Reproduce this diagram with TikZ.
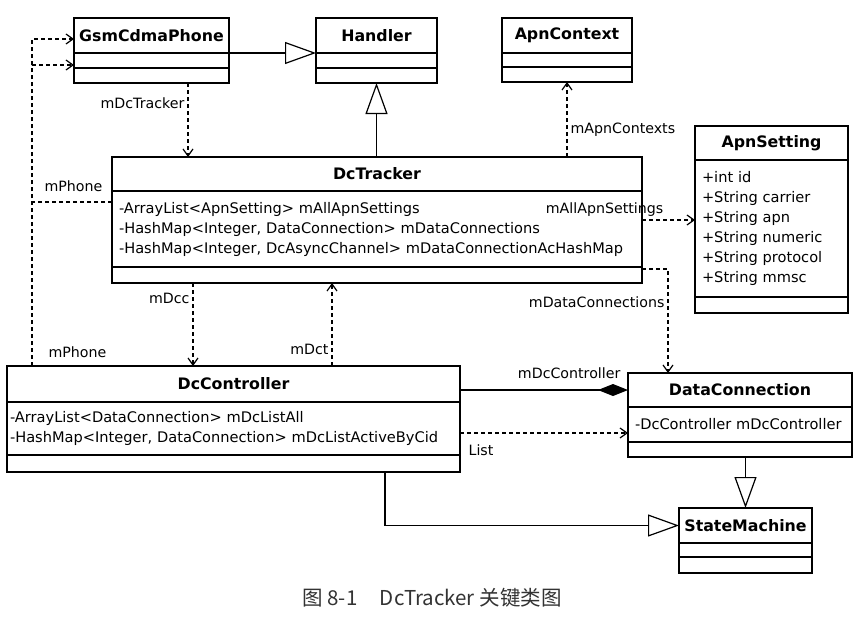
\documentclass[tikz,border=0pt]{standalone}
\usepackage{fontspec}
\setmainfont{DejaVu Sans}
\newfontfamily\cjkfont{Noto Sans CJK SC}
\usetikzlibrary{arrows.meta, positioning}
\newcommand\ttlfont{\fontsize{15.8}{18}\selectfont\bfseries}
\newcommand\attfont{\fontsize{14.6}{20}\selectfont}
\newcommand\lblfont{\fontsize{14.2}{16}\selectfont}

\begin{document}
\begin{tikzpicture}[x=1pt, y=-1pt,
    cls/.style={draw, line width=1.3pt, inner sep=0pt, outer sep=0pt},
    ttl/.style={cls, anchor=north west, font=\ttlfont},
    att/.style={cls, font=\attfont, align=left, inner xsep=7pt},
    dep/.style={line width=1.2pt, dash pattern=on 4pt off 3pt, -{Straight Barb[length=7pt, width=10pt]}},
    gen/.style={line width=1.2pt, -{Triangle[open, length=31pt, width=22pt, fill=white]}},
    comp/.style={line width=1.2pt, -{Diamond[length=30pt, width=12pt]}},
    lbl/.style={font=\lblfont, inner sep=3pt}]
		\path[use as bounding box, fill=white] (0,0) rectangle (867,637);
		% classes
		\node[ttl, minimum width=155, minimum height=35] (gsm) at (74,18) {GsmCdmaPhone};
		\node[cls, minimum width=155, minimum height=15, below=0pt of gsm] (gsm-a) {};
		\node[cls, minimum width=155, minimum height=15, below=0pt of gsm-a] (gsm-o) {};
		\node[ttl, minimum width=121, minimum height=35] (hdl) at (316,18) {Handler};
		\node[cls, minimum width=121, minimum height=15, below=0pt of hdl] (hdl-a) {};
		\node[cls, minimum width=121, minimum height=15, below=0pt of hdl-a] (hdl-o) {};
		\node[ttl, minimum width=130, minimum height=35] (ctx) at (502,18) {ApnContext};
		\node[cls, minimum width=130, minimum height=14, below=0pt of ctx] (ctx-a) {};
		\node[cls, minimum width=130, minimum height=15, below=0pt of ctx-a] (ctx-o) {};
		\node[ttl, minimum width=153, minimum height=34] (aps) at (695,126) {ApnSetting};
		\node[att, text width=139, minimum height=137, below=0pt of aps] (aps-a)
			{+int id\\+String carrier\\+String apn\\+String numeric\\+String protocol\\+String mmsc};
		\node[cls, minimum width=153, minimum height=16, below=0pt of aps-a] (aps-o) {};
		\node[ttl, minimum width=530, minimum height=34] (dct) at (112,157) {DcTracker};
		\node[att, text width=516, minimum height=76, below=0pt of dct] (dct-a)
			{-ArrayList<ApnSetting> mAllApnSettings\\-HashMap<Integer, DataConnection> mDataConnections\\-HashMap<Integer, DcAsyncChannel> mDataConnectionAcHashMap};
		\node[cls, minimum width=530, minimum height=16, below=0pt of dct-a] (dct-o) {};
		\node[ttl, minimum width=453, minimum height=36] (dcc) at (7,366) {DcController};
		\node[att, inner xsep=3pt, text width=447, minimum height=53, below=0pt of dcc] (dcc-a)
			{-ArrayList<DataConnection> mDcListAll\\-HashMap<Integer, DataConnection> mDcListActiveByCid};
		\node[cls, minimum width=453, minimum height=17, below=0pt of dcc-a] (dcc-o) {};
		\node[ttl, minimum width=224, minimum height=34] (dcn) at (628,373) {DataConnection};
		\node[att, text width=210, minimum height=35, below=0pt of dcn] (dcn-a) {-DcController mDcController};
		\node[cls, minimum width=224, minimum height=15, below=0pt of dcn-a] (dcn-o) {};
		\node[ttl, minimum width=133, minimum height=35] (sm) at (679,508) {StateMachine};
		\node[cls, minimum width=133, minimum height=14, below=0pt of sm] (sm-a) {};
		\node[cls, minimum width=133, minimum height=16, below=0pt of sm-a] (sm-o) {};
		% relations
		\draw[gen] (gsm.south east) -- (hdl.south west);
		\draw[gen] (hdl-o.south |- dct.north) -- (hdl-o.south);
		\draw[dep] (ctx-o.south |- dct.north) -- node[lbl, right, pos=0.36] {mApnContexts} (ctx-o.south);
		\draw[dep] ([xshift=36.5]gsm-o.south) -- node[lbl, left, pos=0.27] {mDcTracker} ([xshift=36.5]gsm-o.south |- dct.north);
		\draw[dep] ([yshift=-11]dct-a.north west) -| node[lbl, pos=0, anchor=south east, xshift=-6, yshift=7] {mPhone} ([xshift=-42, yshift=-4.5]gsm-a.west) -- ([yshift=-4.5]gsm-a.west);
		\draw[dep] ([xshift=25]dcc.north west) |- node[lbl, pos=0, anchor=south west, xshift=13, yshift=5] {mPhone} ([yshift=-3.5]gsm.west);
		\draw[dep] ([xshift=-184]dct-o.south) -- node[lbl, left, pos=0.18] {mDcc} ([xshift=-184]dct-o.south |- dcc.north);
		\draw[dep] ([xshift=98.5]dcc.north) -- node[lbl, left, pos=0.2] {mDct} ([xshift=98.5]dcc.north |- dct-o.south);
		\draw[dep] ([yshift=-29]dct-a.north east) -- node[lbl, pos=0.47, anchor=south east] {mAllApnSettings} ([yshift=-29]dct-a.north east -| aps.west);
		\draw[dep] ([yshift=-2]dct-o.north east) -| node[lbl, pos=0.66, left] {mDataConnections} ([xshift=-72]dcn.north);
		\draw[comp] (dcn.west -| dcc.east) -- node[lbl, pos=0.65, above, yshift=8] {mDcController} (dcn.west);
		\draw[dep] ([yshift=-8.5]dcn-a.west -| dcc-a.east) -- node[lbl, pos=0, anchor=north west, xshift=5, yshift=-8] {List} ([yshift=-8.5]dcn-a.west);
		\draw[gen] ([xshift=151.5]dcc-o.south) |- (sm.west);
		\draw[gen] (dcn-o.south -| sm.north) -- (sm.north);
		% caption
		\node[font=\cjkfont\fontsize{20.5}{24}\selectfont, text=black!80] (cap) at (432,598) {图 8-1\hspace{1.1em}DcTracker 关键类图};
\end{tikzpicture}
\end{document}
